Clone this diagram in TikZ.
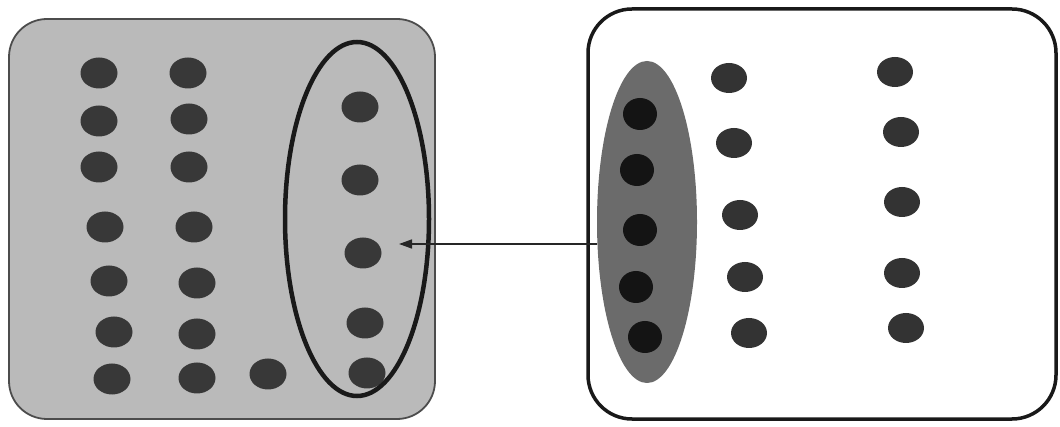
\documentclass[tikz,border=0pt]{standalone}
\usetikzlibrary{shapes.geometric,arrows.meta}
\begin{document}
\begin{tikzpicture}[x=1pt,y=-1pt,
  dotl/.style={ellipse,fill=black!78,minimum width=37pt,minimum height=31pt,inner sep=0pt},
  dotr/.style={ellipse,fill=black!80,minimum width=36pt,minimum height=30pt,inner sep=0pt},
  doti/.style={ellipse,fill=black!92,minimum width=34pt,minimum height=32pt,inner sep=0pt},
  panel/.style={rounded corners=38pt},
  link/.style={-{Triangle[length=13pt,width=9pt]},line width=1.5pt,draw=black!85}]
\useasboundingbox (0,0) rectangle (1060,427);
% left panel
\node[panel,draw=black!70,line width=1.8pt,fill=black!27,minimum width=426pt,minimum height=400pt] (lp) at (222,219) {};
% right panel
\node[panel,rounded corners=44pt,draw=black!90,line width=3.5pt,fill=white,minimum width=468pt,minimum height=410pt] (rp) at (822,214) {};
% left dots
\foreach \i/\x/\y in {1/99/73,2/99/121,3/99/167,4/105/227,5/109/281,6/114/332,7/112/379}
  \node[dotl] (a\i) at (\x,\y) {};
\foreach \i/\x/\y in {1/188/73,2/189/119,3/189/167,4/194/227,5/197/283,6/197/334,7/197/378}
  \node[dotl] (b\i) at (\x,\y) {};
\node[dotl] (c0) at (268,374) {};
\foreach \i/\x/\y in {1/360/107,2/360/180,3/363/253,4/365/323,5/367/373}
  \node[dotl] (c\i) at (\x,\y) {};
% outline ellipse
\node[ellipse,draw=black!90,line width=4.5pt,minimum width=144pt,minimum height=354pt,inner sep=0pt] (oe) at (357,219) {};
% shaded ellipse with dots
\node[ellipse,fill=black!58,minimum width=100pt,minimum height=322pt,inner sep=0pt] (se) at (647,222) {};
\foreach \i/\x/\y in {1/640/114,2/637/170,3/640/230,4/636/287,5/645/337}
  \node[doti] (d\i) at (\x,\y) {};
\foreach \i/\x/\y in {1/729/78,2/734/143,3/740/215,4/745/277,5/749/333}
  \node[dotr] (e\i) at (\x,\y) {};
\foreach \i/\x/\y in {1/895/72,2/901/132,3/902/202,4/902/273,5/906/328}
  \node[dotr] (f\i) at (\x,\y) {};
% arrow
\coordinate (tail) at (597,244);
\coordinate (tip) at (399,244);
\draw[link] (tail) -- (tip);
\end{tikzpicture}
\end{document}
